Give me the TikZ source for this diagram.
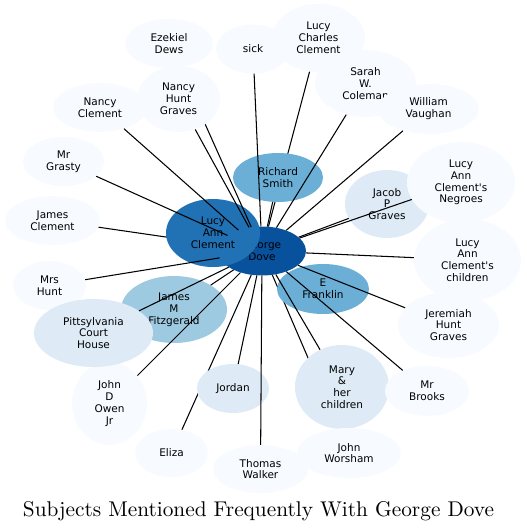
\documentclass[tikz,border=0pt]{standalone}
\usepackage{fontspec}
\newfontfamily\lblfont{DejaVu Sans}
\usetikzlibrary{shapes.geometric}
\definecolor{b0}{HTML}{F7FBFF}
\definecolor{b1}{HTML}{DEEBF7}
\definecolor{b2}{HTML}{9ECAE1}
\definecolor{b3}{HTML}{6BAED6}
\definecolor{b4}{HTML}{2171B5}
\definecolor{b5}{HTML}{08519C}
\pgfdeclarelayer{gdl}
\pgfdeclarelayer{lacl}
\pgfdeclarelayer{edgeA}
\pgfdeclarelayer{edgeB}
\pgfsetlayers{gdl,lacl,edgeA,main,edgeB}
\tikzset{
  nd/.style={ellipse, inner sep=0pt, align=center,
    font=\lblfont\fontsize{10.5}{11.8}\selectfont},
  lnk/.style={draw=black, line width=1.05pt}
}
\begin{document}
\begin{tikzpicture}[x=1pt,y=-1pt]
\useasboundingbox (0,0) rectangle (527,530);
\begin{pgfonlayer}{gdl}
\node[nd, fill=b5, minimum width=88, minimum height=49] (GD) at (262,251) {George\\Dove};
\end{pgfonlayer}
\begin{pgfonlayer}{lacl}
\node[nd, fill=b4, minimum width=94, minimum height=68] (LAC) at (213,233) {Lucy\\Ann\\Clement};
\end{pgfonlayer}
% main node layer
\node[nd, fill=b0, minimum width=88, minimum height=49] (ED) at (169,43.5) {Ezekiel\\Dews};
\node[nd, fill=b0, minimum width=74, minimum height=49] (SK) at (253,49) {sick};
\node[nd, fill=b0, minimum width=93, minimum height=68] (LCC) at (318.5,38) {Lucy\\Charles\\Clement};
\node[nd, fill=b0, minimum width=101, minimum height=67] (SWC) at (365.5,83.5) {Sarah\\W.\\Coleman};
\node[nd, fill=b0, minimum width=101, minimum height=50] (WV) at (428.5,109) {William\\Vaughan};
\node[nd, fill=b0, minimum width=94, minimum height=49] (NC) at (100,107.5) {Nancy\\Clement};
\node[nd, fill=b0, minimum width=83, minimum height=66] (NHG) at (178.5,99) {Nancy\\Hunt\\Graves};
\node[nd, fill=b0, minimum width=81, minimum height=49] (MG) at (63.5,161.5) {Mr\\Grasty};
\node[nd, fill=b0, minimum width=95, minimum height=49] (JC) at (52.5,220.5) {James\\Clement};
\node[nd, fill=b3, minimum width=90, minimum height=49] (RS) at (278,177.5) {Richard\\Smith};
\node[nd, fill=b1, minimum width=84, minimum height=68] (JPG) at (387,204) {Jacob\\P\\Graves};
\node[nd, fill=b0, minimum width=108, minimum height=81] (LACN) at (461,182.5) {Lucy\\Ann\\Clement's\\Negroes};
\node[nd, fill=b0, minimum width=107, minimum height=82] (LACC) at (467.5,260) {Lucy\\Ann\\Clement's\\children};
\node[nd, fill=b3, minimum width=92, minimum height=50] (EF) at (323,289) {E\\Franklin};
\node[nd, fill=b0, minimum width=73, minimum height=49] (MH) at (49.5,285.5) {Mrs\\Hunt};
\node[nd, fill=b2, minimum width=106, minimum height=67] (JMF) at (174,309.5) {James\\M\\Fitzgerald};
\node[nd, fill=b0, minimum width=75, minimum height=83] (JDO) at (109.5,403.5) {John\\D\\Owen\\Jr};
\node[nd, fill=b1, minimum width=119, minimum height=68] (PCH) at (93.5,333) {Pittsylvania\\Court\\House};
\node[nd, fill=b0, minimum width=101, minimum height=66] (JHG) at (448.5,325) {Jeremiah\\Hunt\\Graves};
\node[nd, fill=b1, minimum width=72, minimum height=49] (JOR) at (233,388.5) {Jordan};
\node[nd, fill=b1, minimum width=94, minimum height=84] (MHC) at (342,387) {Mary\\\&\\her\\children};
\node[nd, fill=b0, minimum width=84, minimum height=50] (MB) at (427,391) {Mr\\Brooks};
\node[nd, fill=b0, minimum width=73, minimum height=48] (EL) at (171.5,453) {Eliza};
\node[nd, fill=b0, minimum width=95, minimum height=48] (TW) at (260.5,469) {Thomas\\Walker};
\node[nd, fill=b0, minimum width=104, minimum height=50] (JW) at (349,453) {John\\Worsham};
\node[anchor=base] (title) at (258.5,516) {\resizebox{471pt}{!}{Subjects Mentioned Frequently With George Dove}};
% edges below most nodes
\begin{pgfonlayer}{gdl}
\draw[lnk] (GD) -- (JC);
\end{pgfonlayer}
\begin{pgfonlayer}{edgeA}
\draw[lnk] (GD) -- (ED);
\draw[lnk] (GD) -- (LCC);
\draw[lnk] (GD) -- (EL);
\draw[lnk] (GD) -- (JW);
\end{pgfonlayer}
\begin{pgfonlayer}{edgeB}
\draw[lnk] (GD) -- (SK);
\draw[lnk] (GD) -- (SWC);
\draw[lnk] (GD) -- (WV);
\draw[lnk] (GD) -- (NC);
\draw[lnk] (GD) -- (NHG);
\draw[lnk] (GD) -- (MG);
\draw[lnk] (GD) -- (RS);
\draw[lnk] (GD) -- (JPG);
\draw[lnk] (GD) -- (LACN);
\draw[lnk] (GD) -- (LACC);
\draw[lnk] (GD) -- (MH);
\draw[lnk] (GD) -- (JMF);
\draw[lnk] (GD) -- (PCH);
\draw[lnk] (GD) -- (JHG);
\draw[lnk] (GD) -- (JDO);
\draw[lnk] (GD) -- (JOR);
\draw[lnk] (GD) -- (MHC);
\draw[lnk] (GD) -- (MB);
\draw[lnk] (GD) -- (TW);
\end{pgfonlayer}
\end{tikzpicture}
\end{document}
